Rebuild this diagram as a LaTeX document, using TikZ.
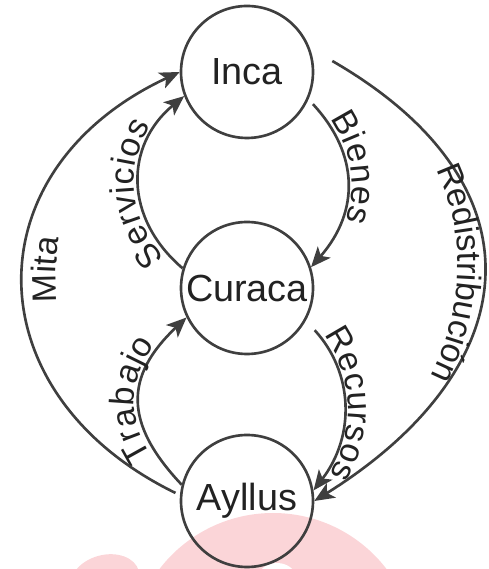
\documentclass[tikz,border=0pt]{standalone}
\usepackage{fontspec}
\setmainfont{Liberation Sans}
\usetikzlibrary{arrows.meta,decorations.text}
\definecolor{linegray}{HTML}{3F3F3F}
\definecolor{labelink}{HTML}{222222}
\definecolor{blushpink}{HTML}{FBD5D8}
\newcommand{\stagefont}{\fontsize{21.5}{26}\selectfont}
\newcommand{\flowfont}{\fontsize{19.3}{23}\selectfont}

\begin{document}
\begin{tikzpicture}[
  stage/.style={circle,draw=linegray,line width=1.5pt,minimum size=2.64cm,inner sep=0pt,font=\stagefont,text=labelink},
  flow/.style={draw=linegray,line width=1.5pt,-{Stealth[length=.4cm,width=.34cm,inset=.1cm]}},
  along/.style n args={3}{postaction={decorate,decoration={text along path,text align={center,right indent=#3},raise=#2,text color=labelink,text={|\flowfont|#1}}}}
]
  \useasboundingbox (0,0) rectangle (9.76,11.38);
  % pink blot along the bottom edge
  \begin{scope}
    \clip (0,0) rectangle (9.76,11.38);
    \fill[blushpink] (5.46,-1.74) circle (2.86);
    \fill[white] (5.54,-.22) ellipse (.4 and .34);
    \fill[blushpink,rotate around={15:(2.1,-.22)}] (2.1,-.22) ellipse (.7 and .5);
  \end{scope}

  \node[stage] (inca) at (4.94,9.94) {Inca};
  \node[stage] (curaca) at (4.94,5.62) {Curaca};
  \node[stage] (ayllus) at (4.94,1.36) {Ayllus};

  % inner loops
  \draw[flow,along={Servicios}{.1cm}{.48cm}] (curaca.163) to[bend left=50,looseness=1.15] (inca.201);
  \draw[flow,along={Bienes}{.1cm}{.56cm},shorten <=.13cm] (inca.-24) to[bend left=42,looseness=1.13] (curaca.18);
  \draw[flow,along={Trabajo}{.1cm}{0cm}] (ayllus.166) to[bend left=45,looseness=1.3] (curaca.206);
  \draw[flow,along={Recursos}{.1cm}{0cm},shorten <=.26cm] (curaca.-29) to[bend left=40,looseness=1.05] (ayllus.9);
  % outer loop, labels sit on flatter curves inside it
  \draw[flow,shorten <=.1cm] (ayllus.175) to[out=154,in=205,looseness=1.4] (inca.west);
  \path[along={Mita}{0pt}{-.52cm}] (ayllus.175) to[out=154,in=205,looseness=1.11] (inca.west);
  \draw[flow] ([shift={(.36,.22)}]inca.east) to[out=-30,in=32,looseness=1.45] (ayllus.east);
  \path[along={Redistribución}{0pt}{.4cm}] ([shift={(.36,.22)}]inca.east) to[out=-30,in=32,looseness=1.21] (ayllus.east);
\end{tikzpicture}
\end{document}
